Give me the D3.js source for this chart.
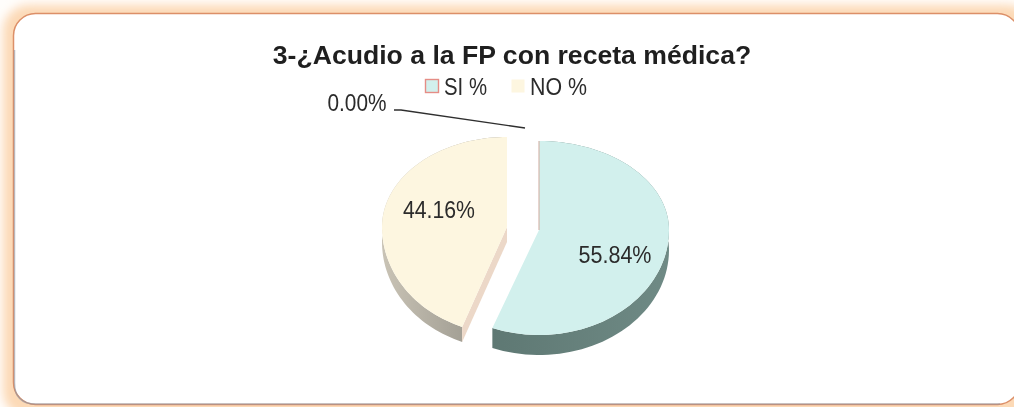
<!DOCTYPE html>
<html>
<head>
<meta charset="utf-8">
<script src="https://cdn.jsdelivr.net/npm/d3@7"></script>
<style>
    html, body { margin: 0; padding: 0; background: #fffdfb; }
    svg { display: block; font-family: "Liberation Sans", Arial, sans-serif; filter: blur(0.4px); }
</style>
</head>
<body>
<div id="chart"></div>
<script>
// Chart values
const chartTitle = '3-¿Acudio a la FP con receta médica?';
const sliceNames = ['', 'SI %', 'NO %'];
const sliceValues = [0.00, 55.84, 44.16];
const legendNames = ['SI %', 'NO %'];

const width = 1014;
const height = 407;

// Look of each slice, in the same order as sliceValues.
// The pie is photographed in perspective, so the top and bottom halves have their own height.
const sliceStyles = [
    { cx: 539, cy: 230, rx: 130, ryTop: 89, ryBottom: 105, depth: 0, face: '#cfa99c', wall: ['#cfa99c', '#cfa99c'], cut: null },
    { cx: 539, cy: 230, rx: 130, ryTop: 89, ryBottom: 105, depth: 20, face: '#d2f0ed', wall: ['#5e7873', '#6f8a85'], cut: null },
    { cx: 507, cy: 227, rx: 125, ryTop: 90, ryBottom: 107, depth: 15, face: '#fdf6e0', wall: ['#c9c3b5', '#8f8d84'], cut: '#ecd8c8' }
];

const svg = d3.select('#chart')
    .append('svg')
    .attr('width', width)
    .attr('height', height);

const defs = svg.append('defs');

const glow = defs.append('filter')
    .attr('id', 'glow')
    .attr('x', '-5%').attr('y', '-10%')
    .attr('width', '110%').attr('height', '120%');
glow.append('feGaussianBlur').attr('stdDeviation', 5);

// Draw the card with its soft orange edge. Its right side runs off the picture.
function drawCard() {
    svg.append('rect')
        .attr('x', 3).attr('y', 5)
        .attr('width', 1030).attr('height', 412)
        .attr('rx', 26)
        .attr('fill', '#fcd9b6')
        .attr('filter', 'url(#glow)');

    svg.append('rect')
        .attr('x', 13.5).attr('y', 13.5)
        .attr('width', 1006).attr('height', 391)
        .attr('rx', 22)
        .attr('fill', '#ffffff')
        .attr('stroke', '#dc8f68')
        .attr('stroke-width', 1.5);

    // Bottom and left edges read grey-blue in the scan
    svg.append('path')
        .attr('d', 'M14.5,50 V383 Q14.5,404 36,404 H1000')
        .attr('fill', 'none')
        .attr('stroke', '#8d96a3')
        .attr('stroke-width', 1.5)
        .attr('opacity', 0.6);
}

// Point on a slice's rim for a pie angle (clockwise from twelve o'clock)
function rimPoint(style, angle) {
    const cos = Math.cos(angle);
    const ry = cos > 0 ? style.ryTop : style.ryBottom;
    return [style.cx + style.rx * Math.sin(angle), style.cy - ry * cos];
}

function rimPoints(style, start, end) {
    const steps = 80;
    return d3.range(steps + 1).map(i => rimPoint(style, start + (end - start) * i / steps));
}

const line = d3.line();

function drawPie() {
    const pie = d3.pie().sort(null).value(d => d);
    const arcs = pie(sliceValues);

    arcs.forEach((arc, i) => {
        const style = sliceStyles[i];
        if (arc.endAngle - arc.startAngle === 0) return;

        const gradient = defs.append('linearGradient')
            .attr('id', `wall-${i}`)
            .attr('x1', 0).attr('y1', 0)
            .attr('x2', 1).attr('y2', 0);
        gradient.append('stop').attr('offset', '0%').attr('stop-color', style.wall[0]);
        gradient.append('stop').attr('offset', '100%').attr('stop-color', style.wall[1]);

        // Outer wall: rim swept down by the depth
        const rim = rimPoints(style, arc.startAngle, arc.endAngle);
        const lowerRim = rim.map(p => [p[0], p[1] + style.depth]).reverse();
        svg.append('path')
            .attr('d', line(rim.concat(lowerRim)) + 'Z')
            .attr('fill', `url(#wall-${i})`);

        const apex = [style.cx, style.cy];

        // Cut face, only where it looks towards the viewer
        if (style.cut) {
            const tip = rim[0];
            svg.append('path')
                .attr('d', line([apex, tip, [tip[0], tip[1] + style.depth], [apex[0], apex[1] + style.depth]]) + 'Z')
                .attr('fill', style.cut);
        }

        // Top face
        svg.append('path')
            .attr('d', line([apex].concat(rim)) + 'Z')
            .attr('fill', style.face);
    });

    // The 0 % slice only shows as a thin line on the teal slice's straight edge
    const zero = sliceStyles[0];
    const zeroRim = rimPoint(zero, arcs[0].startAngle);
    svg.append('path')
        .attr('d', line([[zero.cx, zero.cy], zeroRim]))
        .attr('stroke', zero.face)
        .attr('stroke-width', 1)
        .attr('fill', 'none');
}

function drawLabels() {
    // The scan squeezes the text sideways, so the labels are tall for their width
    const labelPositions = [[357, 111, 59], [615, 263, 73], [439, 218, 72]];

    svg.selectAll('.slice-label')
        .data(sliceValues)
        .enter()
        .append('text')
        .attr('class', 'slice-label')
        .attr('x', (d, i) => labelPositions[i][0])
        .attr('y', (d, i) => labelPositions[i][1])
        .attr('text-anchor', 'middle')
        .attr('font-size', 24)
        .attr('textLength', (d, i) => labelPositions[i][2])
        .attr('lengthAdjust', 'spacingAndGlyphs')
        .attr('fill', '#2b2b2b')
        .text(d => d.toFixed(2) + '%');

    // Leader line of the 0.00% label
    svg.append('path')
        .attr('d', line([[394, 110], [401, 110], [525, 128]]))
        .attr('fill', 'none')
        .attr('stroke', '#2f2f2f')
        .attr('stroke-width', 1.4);
}

function drawLegend() {
    const legendX = d3.scaleOrdinal().domain(legendNames).range([425, 511]);
    const legendTextWidth = d3.scaleOrdinal().domain(legendNames).range([43, 57]);

    const items = svg.selectAll('.legend-item')
        .data(legendNames)
        .enter()
        .append('g')
        .attr('class', 'legend-item')
        .attr('transform', d => `translate(${legendX(d)},79)`);

    items.append('rect')
        .attr('x', 0.5).attr('y', 0.5)
        .attr('width', 13).attr('height', 13)
        .attr('fill', d => sliceStyles[sliceNames.indexOf(d)].face)
        .attr('stroke', d => d === 'SI %' ? '#e58d86' : 'none')
        .attr('stroke-width', 1.4);

    items.append('text')
        .attr('x', 19)
        .attr('y', 16)
        .attr('font-size', 23)
        .attr('textLength', d => legendTextWidth(d))
        .attr('lengthAdjust', 'spacingAndGlyphs')
        .attr('fill', '#2b2b2b')
        .text(d => d);
}

function drawTitle() {
    svg.append('text')
        .attr('x', 512)
        .attr('y', 64)
        .attr('text-anchor', 'middle')
        .attr('font-size', 26.6)
        .attr('font-weight', 'bold')
        .attr('fill', '#1f1f1f')
        .text(chartTitle);
}

drawCard();
drawPie();
drawLabels();
drawLegend();
drawTitle();
</script>
</body>
</html>
